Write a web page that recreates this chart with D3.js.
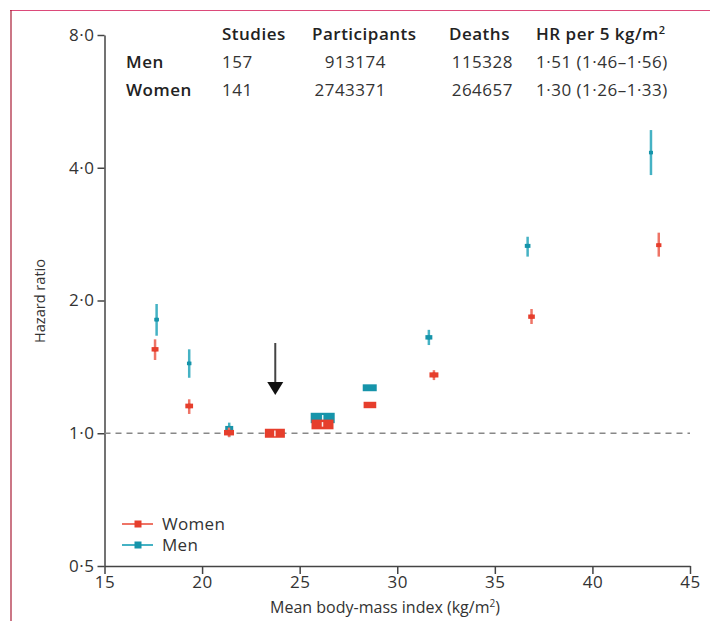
<!DOCTYPE html>
<html><head><meta charset="utf-8">
<script src="https://cdn.jsdelivr.net/npm/d3@7/dist/d3.min.js"></script>
<style>
body{margin:0;background:#fff;}
svg{display:block;font-family:"Open Sans","Noto Sans",sans-serif;}
</style></head>
<body>
<svg id="c" width="710" height="621"></svg>
<script>
// ---- data ----
const bmiMen   = [17.67, 19.34, 21.39, 26.18, 28.59, 31.62, 36.68, 43.0];
const hrMen    = [1.81, 1.44, 1.026, 1.083, 1.268, 1.65, 2.66, 4.33];
const loMen    = [1.664, 1.336, 0.98, 1.065, 1.25, 1.585, 2.515, 3.85];
const hiMen    = [1.964, 1.55, 1.057, 1.10, 1.285, 1.716, 2.79, 4.87];
const wMen     = [5.5, 5, 16, 144, 49, 12, 8, 4];

const bmiWomen = [17.59, 19.34, 21.38, 23.73, 26.17, 28.6, 31.88, 36.88, 43.4];
const hrWomen  = [1.55, 1.153, 1.003, 1.0, 1.047, 1.159, 1.356, 1.838, 2.67];
const loWomen  = [1.466, 1.106, 0.98, 0.985, 1.035, 1.14, 1.32, 1.769, 2.515];
const hiWomen  = [1.633, 1.194, 1.03, 1.015, 1.06, 1.175, 1.39, 1.913, 2.85];
const wWomen   = [12, 15, 25, 100, 121, 40, 20, 11, 7];

const xTicks = [15, 20, 25, 30, 35, 40, 45];
const yTicks = [0.5, 1, 2, 4, 8];
const refBMI = 23.75;

const tableHeader = ["Studies", "Participants", "Deaths", "HR per 5 kg/m\u00B2"];
const tableRows = ["Men", "Women"];
const studies = ["157", "141"];
const participants = ["913174", "2743371"];
const deaths = ["115328", "264657"];
const hrPer5 = ["1\u00B751 (1\u00B746\u20131\u00B756)", "1\u00B730 (1\u00B726\u20131\u00B733)"];
const seriesNames = ["Women", "Men"];

// ---- layout ----
const svg = d3.select("#c");
const RED = "#e63e2c", RED_L = "#ee7466";
const TEAL = "#1694aa", TEAL_L = "#45b2c4";
const AX = "#444";

const x = d3.scaleLinear().domain([15, 45]).range([104.5, 690]);
const y = d3.scaleLog().base(2).domain([0.5, 8]).range([566, 35]);

// frame
svg.append("line").attr("x1", 10).attr("x2", 710).attr("y1", 10.5).attr("y2", 10.5)
  .attr("stroke", "#dc4a7a").attr("stroke-width", 1.2);
svg.append("line").attr("x1", 11).attr("x2", 11).attr("y1", 10).attr("y2", 621)
  .attr("stroke", "#a81c34").attr("stroke-width", 1.2);

const fmt = v => d3.format(".1f")(v).replace(".", "\u00B7");

// axes
const gx = svg.append("g").attr("transform", "translate(0,566)")
  .call(d3.axisBottom(x).tickValues(xTicks).tickSize(8).tickSizeOuter(0).tickPadding(2));
const gy = svg.append("g").attr("transform", "translate(104.5,0)")
  .call(d3.axisLeft(y).tickValues(yTicks).tickFormat(fmt).tickSize(7).tickSizeOuter(0).tickPadding(3));
[gx, gy].forEach(g => {
  g.select(".domain").attr("stroke", AX).attr("stroke-width", 1.5);
  g.selectAll(".tick line").attr("stroke", AX).attr("stroke-width", 1.5);
  g.selectAll(".tick text").attr("fill", "#333").style("font-size", "17px")
    .style("letter-spacing", "0.5px")
    .style("font-family", "'Open Sans','Noto Sans',sans-serif");
});
gx.selectAll(".tick text").attr("dy", "0.72em");

svg.append("text").attr("x", 385).attr("y", 613).attr("text-anchor", "middle")
  .attr("fill", "#333").style("font-size", "16px")
  .html("Mean body-mass index (kg/m<tspan dy='-6' font-size='10'>2</tspan><tspan dy='6'>)</tspan>");
svg.append("text").attr("transform", "translate(45,301) rotate(-90)")
  .attr("text-anchor", "middle").attr("fill", "#333").style("font-size", "15px")
  .attr("textLength", 84).attr("lengthAdjust", "spacingAndGlyphs")
  .text("Hazard ratio");

// reference line
svg.append("line").attr("x1", x(15)).attr("x2", x(45)).attr("y1", y(1)).attr("y2", y(1))
  .attr("stroke", "#888").attr("stroke-width", 1.5).attr("stroke-dasharray", "6,5");

// arrow
svg.append("line").attr("x1", x(refBMI)).attr("x2", x(refBMI)).attr("y1", 343).attr("y2", 384)
  .attr("stroke", "#444").attr("stroke-width", 2);
svg.append("path")
  .attr("d", `M${x(refBMI) - 8},382 L${x(refBMI) + 8},382 L${x(refBMI)},395 Z`)
  .attr("fill", "#111");

// series
const wScale = v => 2 * Math.sqrt(v);
function drawSeries(bmi, hr, lo, hi, w, col, colL) {
  const g = svg.append("g");
  const data = bmi.map((b, i) => ({ b, hr: hr[i], lo: lo[i], hi: hi[i], w: w[i] }));
  data.forEach(d => {
    const cx = x(d.b), cy = y(d.hr);
    const bw = wScale(d.w), bh = 2 + 0.35 * bw;
    const yl = y(d.lo), yh = y(d.hi);
    const inside = (yh >= cy - bh / 2) && (yl <= cy + bh / 2);
    if (!inside) {
      g.append("line").attr("x1", cx).attr("x2", cx).attr("y1", yh).attr("y2", yl)
        .attr("stroke", colL).attr("stroke-width", 2.5);
    }
    g.append("rect").attr("x", cx - bw / 2).attr("y", cy - bh / 2)
      .attr("width", bw).attr("height", bh).attr("fill", col);
    if (inside && bw > 14) {
      g.append("line").attr("x1", cx).attr("x2", cx).attr("y1", yh).attr("y2", yl)
        .attr("stroke", "#fff").attr("stroke-width", 1.5).attr("opacity", 0.9);
    } else if (!inside) {
      g.append("line").attr("x1", cx).attr("x2", cx)
        .attr("y1", Math.max(yh, cy - bh / 2)).attr("y2", Math.min(yl, cy + bh / 2))
        .attr("stroke", col).attr("stroke-width", 2.5);
    }
  });
}
drawSeries(bmiMen, hrMen, loMen, hiMen, wMen, TEAL, TEAL_L);
drawSeries(bmiWomen, hrWomen, loWomen, hiWomen, wWomen, RED, RED_L);

// legend
const legCols = [[RED, RED_L], [TEAL, TEAL_L]];
seriesNames.forEach((n, i) => {
  const ly = 524 + i * 21;
  svg.append("line").attr("x1", 122).attr("x2", 153).attr("y1", ly).attr("y2", ly)
    .attr("stroke", legCols[i][1]).attr("stroke-width", 2);
  svg.append("rect").attr("x", 134.5).attr("y", ly - 3.5).attr("width", 7).attr("height", 7)
    .attr("fill", legCols[i][0]);
  svg.append("text").attr("x", 162).attr("y", ly + 6).attr("fill", "#333")
    .style("font-size", "17px").style("letter-spacing", "0.3px").text(n);
});

// table
const tfs = "17px", ls = "0.5px";
const hdrX = [222, 312, 449, 536];
tableHeader.forEach((h, i) => {
  const t = svg.append("text").attr("x", hdrX[i]).attr("y", 40).attr("fill", "#222")
    .style("font-size", tfs).style("font-weight", "600").style("letter-spacing", ls);
  if (i === 3) t.html("HR per 5 kg/m<tspan dy='-6' font-size='11'>2</tspan>");
  else t.text(h);
});
tableRows.forEach((r, i) => {
  const ty = 68 + i * 28;
  svg.append("text").attr("x", 126).attr("y", ty).attr("fill", "#222")
    .style("font-size", tfs).style("font-weight", "600").style("letter-spacing", ls).text(r);
  svg.append("text").attr("x", 222).attr("y", ty).attr("fill", "#333").style("font-size", tfs).style("letter-spacing", ls).text(studies[i]);
  svg.append("text").attr("x", 386).attr("y", ty).attr("text-anchor", "end").attr("fill", "#333").style("font-size", tfs).style("letter-spacing", ls).text(participants[i]);
  svg.append("text").attr("x", 513).attr("y", ty).attr("text-anchor", "end").attr("fill", "#333").style("font-size", tfs).style("letter-spacing", ls).text(deaths[i]);
  svg.append("text").attr("x", 536).attr("y", ty).attr("fill", "#333").style("font-size", tfs).style("letter-spacing", ls).text(hrPer5[i]);
});
</script>
</body></html>
